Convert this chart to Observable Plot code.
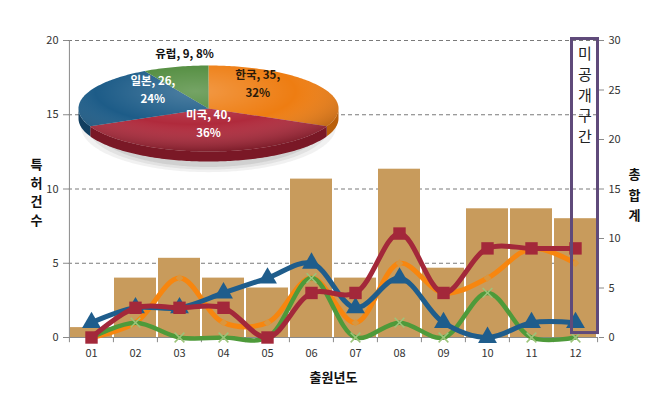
<!DOCTYPE html>
<html><head><meta charset="utf-8">
<script src="https://cdn.jsdelivr.net/npm/d3@7"></script>
<script src="https://cdn.jsdelivr.net/npm/@observablehq/plot@0.6"></script>
<style>
body{margin:0;background:#fff}
#wrap{position:relative;width:667px;height:406px;background:#fff}
#wrap svg{position:absolute;left:0;top:0}
</style>
</head><body><div id="wrap"></div>
<script>
// ---- data ----
const years = ["01","02","03","04","05","06","07","08","09","10","11","12"];
const korea  = [0,1,4,1,1,4,1,5,3,4,6,5];
const usa    = [0,2,2,2,0,3,3,7,3,6,6,6];
const japan  = [1,2,2,3,4,5,2,4,1,0,1,1];
const europe = [0,1,0,0,0,4,0,1,0,3,0,0];
const totals = [1,6,8,6,5,16,6,17,7,13,13,12];
const leftTicks = [0,5,10,15,20];
const rightTicks = [0,5,10,15,20,25,30];
const pieNames = ["한국","미국","일본","유럽"];
const pieValues = [35,40,26,9];
const piePct = ["32%","36%","24%","8%"];
const boxText = "미공개구간";

const font = "'Noto Sans CJK KR','Noto Sans',sans-serif";
const ratio = 20/30; // right axis -> left axis units

const rows = years.map((year,i)=>({year,total:totals[i]}));
const series = [
  {name:"한국", vals:korea,  color:"#F7860F", width:5,   symbol:"diamond2", r:3.5, mfill:"#D9963F", mstroke:"none"},
  {name:"유럽", vals:europe, color:"#4E9A3A", width:4.5, symbol:"times", r:4.5, mfill:"none", mstroke:"#9CC47A"},
  {name:"일본", vals:japan,  color:"#1F5D8C", width:5,   symbol:"triangle", r:7, mfill:"#1F5D8C", mstroke:"none"},
  {name:"미국", vals:usa,    color:"#A3283A", width:5,   symbol:"square", r:7, mfill:"#A3283A", mstroke:"none"}
];
const lineMarks = [];
for (const s of series) {
  const pts = years.map((year,i)=>({year, v:s.vals[i]}));
  lineMarks.push(Plot.line(pts,{x:"year",y:"v",stroke:s.color,strokeWidth:s.width,curve:"catmull-rom"}));
  lineMarks.push(Plot.dot(pts,{x:"year",y:"v",symbol:()=>s.symbol,r:s.r,fill:s.mfill,stroke:s.mstroke,strokeWidth:1.5}));
}

const main = Plot.plot({
  width:667, height:406,
  marginLeft:68, marginRight:69, marginTop:40, marginBottom:69,
  style:{fontFamily:font, fontSize:"11px", color:"#333", background:"white", overflow:"visible"},
  x:{domain:years, padding:0},
  y:{domain:[0,20]},
  symbol:{type:"identity"},
  marks:[
    Plot.ruleY([5,10,15,20],{stroke:"#7a7a7a",strokeDasharray:"4,3",strokeWidth:1}),
    Plot.barY(rows,{x:"year",y:d=>d.total*ratio,fill:"#C89B5C",insetLeft:1,insetRight:1}),
    Plot.ruleY([0],{stroke:"#8a8a8a"}),
    Plot.ruleX([years[0]],{x:d=>d,dx:-22.08,y1:0,y2:20,stroke:"#8a8a8a"}),
    Plot.ruleX(years,{x:d=>d,dx:-22.08,y1:0,y2:-0.35,stroke:"#8a8a8a"}),
    Plot.ruleX([years[11]],{x:d=>d,dx:22.08,y1:0,y2:-0.35,stroke:"#8a8a8a"}),
    Plot.axisX({tickSize:0,tickPadding:12,label:null}),
    Plot.axisY(leftTicks,{anchor:"left",tickSize:5,tickPadding:5,label:null,stroke:"#8a8a8a"}),
    Plot.axisY(rightTicks.map(v=>v*ratio),{anchor:"right",tickSize:5,tickPadding:5,label:null,tickFormat:d=>String(Math.round(d/ratio)),stroke:"#8a8a8a"}),
    ...lineMarks,
    Plot.barY([years[11]],{x:d=>d,y1:0.3,y2:20.1,insetLeft:18.5,insetRight:-0.5,fill:"none",stroke:"#5F4A7A",strokeWidth:3}),
    Plot.text([boxText],{x:()=>years[11],y:20,text:d=>d.split("").join("\n"),dx:9.5,dy:4,lineAnchor:"top",fontSize:15,lineHeight:1.38,fill:"#222"}),
    Plot.text(["특허건수"],{frameAnchor:"left",text:d=>d.split("").join("\n"),dx:-38,dy:2,fontSize:13,fontWeight:"bold",lineHeight:1.45,fill:"#111"}),
    Plot.text(["총합계"],{frameAnchor:"right",text:d=>d.split("").join("\n"),dx:42,dy:4,fontSize:13,fontWeight:"bold",lineHeight:1.6,fill:"#111"}),
    Plot.text(["출원년도"],{frameAnchor:"bottom",text:d=>d,dy:44,fontSize:13,fontWeight:"bold",fill:"#111"})
  ]
});
document.getElementById("wrap").appendChild(main);

// ---- 3D pie overlay ----
const cx=208, cy=108, rx=130, ry=43, depth=10/43;
const arcs = d3.pie().sort(null).value(d=>d)(pieValues);
const topColors  = ["#EE7D12","#B02A3C","#1D5C88","#4E8A3A"];
const sideColors = ["#B95F0A","#7A1826","#123F60","#34602A"];
function arcPts(a0,a1,dy=0,sx=1,sy=1,oy=0){
  const n=Math.max(2,Math.ceil((a1-a0)/0.02));
  return d3.range(n+1).map(i=>{const a=a0+(a1-a0)*i/n;return {x:sx*Math.sin(a),y:oy+sy*Math.cos(a)+dy};});
}
const pieMarks = [];
// shadow (layered for soft edge)
[[0.98,1.06,0.12],[0.93,1.0,0.15],[0.88,0.94,0.2]].forEach(([sx,sy,op])=>{
  pieMarks.push(Plot.line(arcPts(0,2*Math.PI,0,sx,sy,-0.42),{x:"x",y:"y",fill:"#8c8c8c",fillOpacity:op,stroke:"none"}));
});
// side walls (front half)
arcs.forEach((a,i)=>{
  const b0=Math.max(a.startAngle,Math.PI/2), b1=Math.min(a.endAngle,3*Math.PI/2);
  if (b0<b1) {
    const poly=[...arcPts(b0,b1),...arcPts(b0,b1,-depth).reverse()];
    poly.push(poly[0]);
    pieMarks.push(Plot.line(poly,{x:"x",y:"y",fill:sideColors[i],stroke:"none"}));
  }
});
// top slices
arcs.forEach((a,i)=>{
  const poly=[{x:0,y:0},...arcPts(a.startAngle,a.endAngle),{x:0,y:0}];
  pieMarks.push(Plot.line(poly,{x:"x",y:"y",fill:topColors[i],stroke:"none"}));
});
// gloss
pieMarks.push(Plot.line(arcPts(0,2*Math.PI),{x:"x",y:"y",fill:"url(#pieGloss)",stroke:"none"}));
// labels
const inner = arcs.slice(0,3).map((a,i)=>{const m=(a.startAngle+a.endAngle)/2;return {x:0.45*Math.sin(m),y:0.6*Math.cos(m),t:`${pieNames[i]}, ${pieValues[i]},\n${piePct[i]}`,c:i===0?"#2a1a0a":"#ffffff"};});
pieMarks.push(Plot.text(inner,{x:"x",y:"y",text:"t",fill:"c",dy:-12,lineHeight:1.55,fontWeight:"bold",fontSize:11.5}));
const ea = arcs[3], em=(ea.startAngle+ea.endAngle)/2;
pieMarks.push(Plot.text([{x:1.3*Math.sin(em),y:1.3*Math.cos(em),t:`${pieNames[3]}, ${pieValues[3]}, ${piePct[3]}`}],{x:"x",y:"y",text:"t",fill:"#111",dx:19,dy:0,fontWeight:"bold",fontSize:11.5}));

const pie = Plot.plot({
  width:667, height:406, margin:0,
  x:{domain:[-cx/rx,(667-cx)/rx],range:[0,667]},
  y:{domain:[(cy-406)/ry,cy/ry],range:[406,0]},
  axis:null,
  style:{background:"transparent",fontFamily:font,overflow:"visible"},
  color:{type:"identity"},
  marks:pieMarks
});
const defs = d3.select(pie).insert("defs",":first-child");
const g = defs.append("radialGradient").attr("id","pieGloss").attr("cx","45%").attr("cy","30%").attr("r","70%");
g.append("stop").attr("offset","0%").attr("stop-color","#fff").attr("stop-opacity",0.22);
g.append("stop").attr("offset","55%").attr("stop-color","#fff").attr("stop-opacity",0);
g.append("stop").attr("offset","100%").attr("stop-color","#000").attr("stop-opacity",0.28);
document.getElementById("wrap").appendChild(pie);
</script></body></html>
